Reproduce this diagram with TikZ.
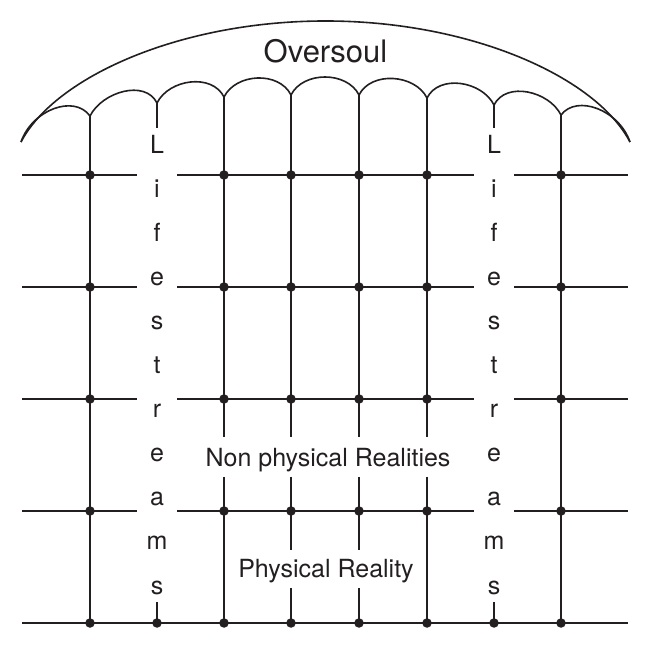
\documentclass[tikz,border=0pt]{standalone}
\usepackage{fontspec}
\setmainfont{TeX Gyre Heros}
\usetikzlibrary{calc}
\definecolor{ink}{RGB}{35,31,32}
\begin{document}
\begin{tikzpicture}[x=1pt,y=1pt,
  ln/.style={draw=ink, line width=1.6pt},
  dotmark/.style={circle, fill=ink, inner sep=0pt, minimum size=9.5pt},
  lett/.style={font=\fontsize{25}{30}\selectfont, text=ink, anchor=base, inner sep=0pt},
  bigtxt/.style={font=\fontsize{31}{36}\selectfont, text=ink, anchor=base, inner sep=0pt}]
\useasboundingbox (0,0) rectangle (655,650);
% arc end points
\coordinate (a0) at (21,508);
\coordinate (a1) at (90,534);
\coordinate (a2) at (157,547);
\coordinate (a3) at (224,553);
\coordinate (a4) at (291,555);
\coordinate (a5) at (359,555);
\coordinate (a6) at (427,552);
\coordinate (a7) at (494,545);
\coordinate (a8) at (561,535);
\coordinate (a9) at (630,508);
\coordinate (top) at (325.5,629);
% big Oversoul arc
\draw[ln] (a0) .. controls (55,573) and (180,629) .. (top)
               .. controls (471,629) and (596,573) .. (a9);
% scallops
\draw[ln] (a0) .. controls (32,540) and (74,556) .. (a1);
\foreach \i/\j in {1/2,2/3,3/4,4/5,5/6,6/7,7/8}{
  \draw[ln] (a\i) .. controls ($(a\i)+(12,24)$) and ($(a\j)+(-12,24)$) .. (a\j);
}
\draw[ln] (a8) .. controls (577,556) and (619,540) .. (a9);
% horizontal levels
\foreach \k/\y in {1/475,2/363,3/251,4/139}{
  \coordinate (hl\k) at (22,\y);
  \coordinate (hla\k) at (137,\y);
  \coordinate (hlb\k) at (177,\y);
  \coordinate (hlc\k) at (474,\y);
  \coordinate (hld\k) at (514,\y);
  \coordinate (hr\k) at (628,\y);
  \draw[ln] (hl\k) -- (hla\k);
  \draw[ln] (hlb\k) -- (hlc\k);
  \draw[ln] (hld\k) -- (hr\k);
}
\coordinate (bl) at (22,27);
\coordinate (br) at (628,27);
\draw[ln] (bl) -- (br);
% verticals
\foreach \n/\x in {1/90,2/157,3/224,4/291,5/359,6/427,7/494,8/561}{
  \coordinate (b\n) at (\x,27);
}
\draw[ln] (a1) -- (b1);
\draw[ln] (a8) -- (b8);
\coordinate (s2) at (157,522); \draw[ln] (a2) -- (s2);
\coordinate (s7) at (494,522); \draw[ln] (a7) -- (s7);
\coordinate (t2) at (157,48); \draw[ln] (t2) -- (b2);
\coordinate (t7) at (494,48); \draw[ln] (t7) -- (b7);
\foreach \n/\x in {3/224,6/427}{
  \coordinate (g\n) at (\x,213);
  \coordinate (h\n) at (\x,173);
  \draw[ln] (a\n) -- (g\n);
  \draw[ln] (h\n) -- (b\n);
}
\foreach \n/\x in {4/291,5/359}{
  \coordinate (g\n) at (\x,213);
  \coordinate (h\n) at (\x,173);
  \coordinate (p\n) at (\x,100);
  \coordinate (q\n) at (\x,62);
  \draw[ln] (a\n) -- (g\n);
  \draw[ln] (h\n) -- (p\n);
  \draw[ln] (q\n) -- (b\n);
}
% dots
\foreach \k/\y in {1/475,2/363,3/251,4/139}{
  \foreach \n/\x in {1/90,3/224,4/291,5/359,6/427,8/561}{
    \node[dotmark] (d\k\n) at (\x,\y) {};
  }
}
\foreach \n/\x in {1/90,2/157,3/224,4/291,5/359,6/427,7/494,8/561}{
  \node[dotmark] (e\n) at (\x,27) {};
}
% Lifestreams letters
\foreach \c [count=\m from 0] in {L,i,f,e,s,t,r,e,a,m,s}{
  \pgfmathsetmacro{\yy}{496-44*\m}
  \node[lett] (ll\m) at (157,\yy) {\c};
  \node[lett] (lr\m) at (494,\yy) {\c};
}
% labels
\node[bigtxt] (over) at (325.5,587) {Oversoul};
\node[lett] (nonphys) at (328,183) {Non physical Realities};
\node[lett] (phys) at (326,72) {Physical Reality};
\end{tikzpicture}
\end{document}
